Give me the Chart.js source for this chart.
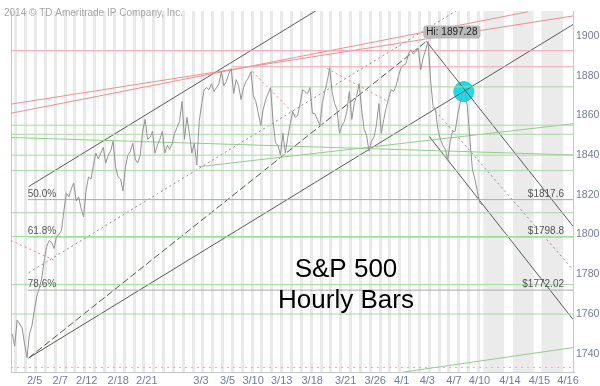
<!DOCTYPE html>
<html>
<head>
<meta charset="utf-8">
<script src="https://cdn.jsdelivr.net/npm/chart.js@4.4.1/dist/chart.umd.min.js"></script>
<style>
  html, body { margin: 0; padding: 0; background: #fff; }
  #wrap { width: 600px; height: 386px; position: relative; }
</style>
</head>
<body>
<div id="wrap"><canvas id="spxChart"></canvas></div>
<script>
// trading days on the chart, one slot each
const tradingDays = ['2/4','2/5','2/6','2/7','2/10','2/11','2/12','2/13','2/14','2/18','2/19','2/20','2/21',
  '2/24','2/25','2/26','2/27','2/28','3/3','3/4','3/5','3/6','3/7','3/10','3/11','3/12','3/13','3/14',
  '3/17','3/18','3/19','3/20','3/21','3/24','3/25','3/26','3/27','3/28','3/31','4/1','4/2','4/3','4/4',
  '4/7','4/8','4/9','4/10','4/11'];

// S&P 500, four readings per day
const hourlyPrice = [
  [1750,1744,1757,1755],[1753,1745,1738,1750],[1754,1762,1769,1773],[1778,1787,1794,1797],
  [1796,1793,1799,1800],[1802,1812,1821,1819],[1823,1826,1817,1819],[1813,1809,1822,1829],
  [1828,1835,1841,1838],[1841,1844,1836,1840],[1842,1847,1834,1829],[1828,1822,1834,1840],
  [1842,1846,1838,1836],[1840,1852,1858,1848],[1849,1852,1841,1845],[1848,1852,1841,1845],
  [1843,1846,1851,1854],[1857,1867,1848,1859],[1851,1841,1846,1835],[1857,1866,1873,1874],
  [1873,1876,1872,1874],[1876,1882,1875,1877],[1881,1883.5,1871,1878],[1875,1868,1874,1877],
  [1879,1882,1870,1867],[1861,1855,1863,1868],[1871,1874,1857,1846],[1845,1840,1851,1841],
  [1849,1856,1862,1859],[1860,1866,1873,1872],[1871,1874,1861,1861],[1858,1855,1866,1872],
  [1877,1884,1872,1866],[1863,1851,1855,1857],[1862,1872,1858,1866],[1870,1876,1863,1853],
  [1850,1842,1847,1849],[1855,1866,1851,1858],[1864,1869,1873,1872],[1875,1880,1884,1885.5],
  [1886,1891,1893,1891],[1892,1894,1883,1889],[1893,1897.28,1878,1865],[1863,1853,1848,1845],
  [1843,1837.5,1847,1852],[1852,1860,1866,1872],[1872,1864,1848,1833],[1828,1822,1816,1815]
];

// x-axis labels and where they sit (in day slots)
const tickLabels = ['2/5','2/7','2/12','2/18','2/21','3/3','3/5','3/10','3/13','3/18','3/21','3/26',
  '4/1','4/3','4/7','4/10','4/14','4/15','4/16'];
const tickSlots = [2.4,5.0,7.7,10.9,13.8,19.3,22.0,24.6,27.5,30.6,34.0,37.0,39.7,42.3,45.0,47.6,50.7,53.7,56.6];
const futureBands = [[48.0,50.1],[51.0,53.1],[53.9,56.1]];

const priceTicks = [1740,1760,1780,1800,1820,1840,1860,1880,1900];
const xMin = 0, xMax = 57.1, yMin = 1730.8, yMax = 1912.6;

// drawn studies: [startSlot, level] or [x1, y1, x2, y2]
const greenLevels = [[26.3,1874.4],[0,1855.1],[0,1850.5],[0,1840],[0,1832.2],[0,1811],[0,1799],[0,1774.8],[0,1760]];
const redLevels = [[0,1892.6],[22.5,1884.5]];
const fibLevels = [1817.6, 1798.8, 1772.02];
const fibNames = ['50.0%','61.8%','78.6%'];
const fibPrices = ['$1817.6','$1798.8','$1772.02'];
const fibStart = 1.7;
const pinkLevel = 1733.1;
const redTrends = [[0,1865.7,57.1,1910.1],[0,1861.1,52.5,1912.2]];
const redDotted = [[0,1797,4.6,1786.6],[24.5,1882.2,29.1,1859.2],[32.1,1883.7,38.1,1867.5]];
const blackTrends = [[1.8,1824.2,31.1,1913.1],[1.8,1737.9,57.1,1905.8],[42.2,1897.28,57.1,1804.2],[42.5,1849.4,57.1,1757.3]];
const dashTrends = [[1.8,1737.9,42.2,1897.28]];
const grayDotted = [[1.8,1780.8,45.2,1912.6],[42.8,1864.1,57.1,1782.3]];
const greenTrends = [[19.1,1834.2,57.1,1855.8],[0,1848.9,57.1,1840.1],[39.8,1730.7,57.1,1743.1]];
const touchPoint = [46.0, 1872];
const highPoint = [42.3, 1897.28];

const pricePoints = [];
hourlyPrice.forEach(function(day, i) {
    day.forEach(function(v, j) {
        pricePoints.push({ x: i + 0.125 + j * 0.25, y: v });
    });
});

function seg(p, color, dash, width) {
    return {
        data: [{ x: p[0], y: p[1] }, { x: p[2], y: p[3] }],
        borderColor: color, borderWidth: width || 1, borderDash: dash || [],
        pointRadius: 0, fill: false, tension: 0, order: 2
    };
}
function level(p, color, dash) {
    return seg([p[0], p[1], xMax, p[1]], color, dash);
}

const datasets = [];
datasets.push({
    data: [{ x: touchPoint[0], y: touchPoint[1] }], showLine: false,
    pointRadius: 10, pointBackgroundColor: 'rgba(0,225,235,0.95)', pointBorderColor: '#22c8d8',
    pointBorderWidth: 1, order: 9
});
greenLevels.forEach(p => datasets.push(level(p, '#a6d9a0')));
redLevels.forEach(p => datasets.push(level(p, '#f5a3a3')));
fibLevels.forEach(v => datasets.push(level([fibStart, v], '#a9a9a9')));
datasets.push(level([0, pinkLevel], '#f59af5', [2, 4]));
redTrends.forEach(p => datasets.push(seg(p, '#f28e8e')));
redDotted.forEach(p => datasets.push(seg(p, '#f08080', [2, 3])));
greenTrends.forEach(p => datasets.push(seg(p, '#8fcf88')));
grayDotted.forEach(p => datasets.push(seg(p, '#8a8a8a', [2, 3])));
dashTrends.forEach(p => datasets.push(seg(p, '#3f5f3f', [7, 3])));
blackTrends.forEach(p => datasets.push(seg(p, '#5a5a5a')));
datasets.push({
    data: pricePoints, borderColor: '#939393', borderWidth: 1,
    pointRadius: 0, fill: false, tension: 0, order: 1
});

const stripeKeys = new Set(tradingDays.map((d, i) => (i + 0.5).toFixed(2)));
const labelMap = new Map(tickSlots.map((v, i) => [v.toFixed(2), tickLabels[i]]));
const allTicks = Array.from(new Set(tradingDays.map((d, i) => i + 0.5).concat(tickSlots))).sort((a, b) => a - b);

const overlay = {
    id: 'overlay',
    beforeDatasetsDraw(chart) {
        const ctx = chart.ctx, a = chart.chartArea, xs = chart.scales.x;
        ctx.save();
        ctx.fillStyle = '#ebebeb';
        futureBands.forEach(function(b) {
            const x1 = xs.getPixelForValue(b[0]), x2 = xs.getPixelForValue(b[1]);
            ctx.fillRect(x1, a.top, x2 - x1, a.bottom - a.top);
        });
        ctx.strokeStyle = '#c3c8d6';
        ctx.lineWidth = 1;
        ctx.beginPath();
        ctx.moveTo(a.left + 0.5, a.top);
        ctx.lineTo(a.left + 0.5, a.bottom);
        ctx.stroke();
        ctx.fillStyle = '#a5a5a5';
        ctx.font = '10px "Liberation Sans"';
        ctx.textBaseline = 'middle';
        ctx.fillText('2014 \u00a9 TD Ameritrade IP Company, Inc.', 4, 13);
        ctx.restore();
    },
    afterDatasetsDraw(chart) {
        const ctx = chart.ctx, a = chart.chartArea, xs = chart.scales.x, ys = chart.scales.y;
        ctx.save();
        ctx.fillStyle = '#555';
        ctx.font = '10px "Liberation Sans"';
        ctx.textBaseline = 'alphabetic';
        fibLevels.forEach(function(v, i) {
            const y = ys.getPixelForValue(v) - 3;
            ctx.textAlign = 'left';
            ctx.fillText(fibNames[i], xs.getPixelForValue(fibStart), y);
            ctx.textAlign = 'right';
            ctx.fillText(fibPrices[i], a.right - 9, y);
        });

        // high callout
        const hx = xs.getPixelForValue(highPoint[0]), hy = ys.getPixelForValue(highPoint[1]);
        const txt = 'Hi: ' + highPoint[1].toFixed(2);
        const w = ctx.measureText(txt).width + 6;
        ctx.fillStyle = '#b9b9b9';
        ctx.beginPath();
        ctx.roundRect(hx - 4, hy - 16, w, 13, 3);
        ctx.fill();
        ctx.fillStyle = '#222';
        ctx.textAlign = 'left';
        ctx.textBaseline = 'middle';
        ctx.fillText(txt, hx - 1, hy - 9.5);

        // title
        ctx.fillStyle = '#000';
        ctx.textAlign = 'center';
        ctx.textBaseline = 'alphabetic';
        ctx.font = '26px "Liberation Sans"';
        ctx.fillText('S&P 500', 346, 277);
        ctx.fillText('Hourly Bars', 346, 308);
        ctx.restore();
    }
};

const tickFont = { family: '"Liberation Sans", Arial, sans-serif', size: 11 };

new Chart(document.getElementById('spxChart'), {
    type: 'line',
    data: { datasets: datasets },
    options: {
        responsive: true,
        maintainAspectRatio: false,
        animation: false,
        events: [],
        layout: { padding: { left: 2, top: 1, right: 0, bottom: 0 } },
        plugins: { legend: { display: false }, tooltip: { enabled: false } },
        scales: {
            x: {
                type: 'linear', min: xMin, max: xMax,
                afterBuildTicks: function(scale) {
                    scale.ticks = allTicks.map(v => ({ value: v }));
                },
                afterFit: function(scale) { scale.height = 14; },
                grid: {
                    drawTicks: false, lineWidth: 3,
                    color: c => (c.tick && stripeKeys.has(c.tick.value.toFixed(2))) ? '#e9e9e9' : 'rgba(0,0,0,0)'
                },
                border: { display: true, color: '#c3c8d6' },
                ticks: {
                    autoSkip: false, maxRotation: 0, padding: 2,
                    color: '#6f7c9e', font: tickFont,
                    callback: v => labelMap.get(Number(v).toFixed(2)) || ''
                }
            },
            y: {
                position: 'right', min: yMin, max: yMax,
                afterBuildTicks: function(scale) {
                    scale.ticks = priceTicks.map(v => ({ value: v }));
                },
                afterFit: function(scale) { scale.width = 27; },
                grid: { display: false, drawTicks: false },
                border: { display: true, color: '#c3c8d6' },
                ticks: {
                    padding: 3, color: '#6f7c9e', font: { family: tickFont.family, size: 10.5 },
                    callback: v => String(v)
                }
            }
        }
    },
    plugins: [overlay]
});
</script>
</body>
</html>
